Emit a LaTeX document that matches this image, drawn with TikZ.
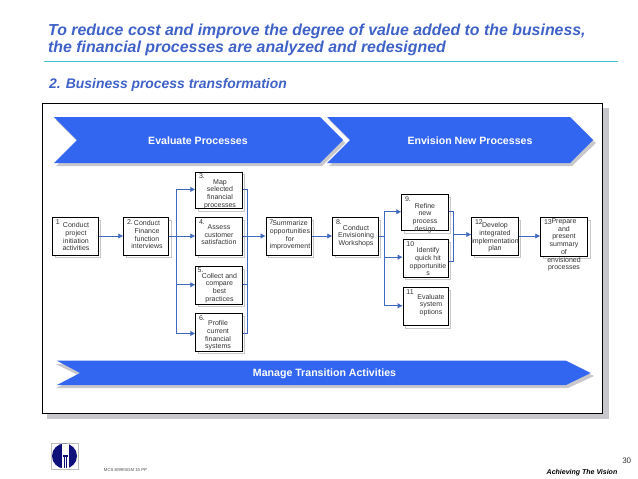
\documentclass[tikz,border=0pt]{standalone}
\usepackage{fontspec}
\setmainfont{Liberation Sans}
\definecolor{flow}{HTML}{3366F0}
\definecolor{ttl}{HTML}{3F62C8}
\definecolor{conn}{HTML}{3F68BE}
\definecolor{shad}{HTML}{C8C8CC}
\definecolor{txt}{HTML}{333333}
\definecolor{navy}{HTML}{10107A}
\definecolor{rulec}{HTML}{45C0D0}
\usetikzlibrary{arrows.meta}
\tikzset{
 x=1pt,y=-1pt,
 ttltext/.style={anchor=west,inner sep=0,font=\bfseries\itshape\fontsize{15.9}{18}\selectfont,text=ttl},
 band/.style={fill=flow,draw=none},
 bandshadow/.style={fill=shad,draw=none},
 bandtext/.style={font=\bfseries\fontsize{10.6}{12}\selectfont,text=white,inner sep=0},
 boxlabel/.style={font=\fontsize{7}{7.7}\selectfont,text=txt,align=center,inner sep=0,anchor=north},
 numlabel/.style={font=\fontsize{7}{8}\selectfont,text=txt,inner sep=0,anchor=north west},
 conn/.style={draw=conn,line width=0.8pt},
 arr/.style={conn,-{Latex[length=5pt,width=5.5pt]}},
}
\newcommand{\stepbox}[6]{% name, x0, y0, x1, y1, number
 \fill[white,draw=shad,line width=0.6pt] (#2+3,#3+3) rectangle (#4+3,#5+3);
 \node[draw=black,line width=0.9pt,fill=white,inner sep=0,minimum width=#4pt-#2pt,minimum height=#5pt-#3pt,anchor=north west] (#1) at (#2,#3) {};
 \node[numlabel] at (#2+3.5,#3+2) {#6};
}
\begin{document}
\begin{tikzpicture}
\useasboundingbox (0,0) rectangle (638,479);
\fill[white] (0,0) rectangle (638,479);
% titles
\node[ttltext] (t1) at (48,31.5) {To reduce cost and improve the degree of value added to the business,};
\node[ttltext] (t2) at (48,48.5) {the financial processes are analyzed and redesigned};
\draw[draw=rulec,line width=0.8pt] (43.5,61.5) -- (618,61.5);
\node[ttltext,font=\bfseries\itshape\fontsize{13.9}{15}\selectfont] (t3) at (49,84.5) {2. Business process transformation};
% frame
\fill[shad] (47,108) rectangle (608.7,418.7);
\draw[fill=white,draw=black,line width=0.9pt] (42.5,103.7) rectangle (602.7,413.3);
% chevrons
\fill[bandshadow] (56,120) -- (322,120) -- (345.5,143) -- (322,166) -- (56,166) -- (79,143) -- cycle;
\fill[bandshadow] (329,120) -- (572,120) -- (596,143) -- (572,166) -- (329,166) -- (352,143) -- cycle;
\fill[band] (54,117) -- (320,117) -- (343,140) -- (320,163) -- (54,163) -- (77,140) -- cycle;
\fill[band] (327,117) -- (570,117) -- (593,140) -- (570,163) -- (327,163) -- (350,140) -- cycle;
\node[bandtext] (ev) at (198,141) {Evaluate Processes};
\node[bandtext] (en) at (470,141) {Envision New Processes};
\fill[bandshadow] (56,364) -- (568,364) -- (594,376) -- (568,388) -- (56,388) -- (80,376) -- cycle;
\fill[band] (57,360.7) -- (566,360.7) -- (590.7,373) -- (566,385) -- (57,385) -- (80,373) -- cycle;
\node[bandtext] (mt) at (324.5,374) {Manage Transition Activities};
% boxes
\fill[shad] (404.3,197.3) rectangle (450.7,233.3);
\stepbox{b1}{52.3}{217.3}{97.7}{254.7}{1}
\stepbox{b2}{123.3}{217.3}{168.3}{254.7}{2.}
\stepbox{b3}{195.3}{171.7}{241.7}{208.3}{3.}
\stepbox{b4}{195.3}{217.3}{241.7}{254.7}{4.}
\stepbox{b5}{195.3}{266.3}{241.7}{303.7}{}
\stepbox{b6}{195.3}{313.3}{241.7}{350.7}{6.}
\stepbox{b7}{265.7}{217.3}{310.7}{254.7}{7}
\stepbox{b8}{332.3}{217.3}{377.7}{254.7}{8.}
\stepbox{b9}{401.3}{194.3}{447.7}{230.3}{9.}
\stepbox{b10}{402.7}{239.3}{447.7}{276.7}{10}
\stepbox{b11}{402.7}{287.3}{447.7}{325}{11}
\stepbox{b12}{471.3}{217.3}{517.7}{254.7}{12}
\stepbox{b13}{540.3}{217.3}{587}{255.7}{13}
\node[numlabel] at (197.3,267.3) {5.};
% box text
\node[boxlabel] at (76,222.5) {Conduct\\project\\initiation\\activities};
\node[boxlabel] at (147,220.5) {Conduct\\Finance\\function\\interviews};
\node[boxlabel] at (220,179) {Map\\selected\\financial\\processes};
\node[boxlabel] at (219,224.5) {Assess\\customer\\satisfaction};
\node[boxlabel] at (219.5,273) {Collect and\\compare\\best\\practices};
\node[boxlabel] at (218,320.5) {Profile\\current\\financial\\systems};
\node[boxlabel] at (290,220.5) {Summarize\\opportunities\\for\\improvement};
\node[boxlabel] at (356,225) {Conduct\\Envisioning\\Workshops};
\node[boxlabel] at (425,203) {Refine\\new\\process\\design};
\node[boxlabel] at (428,247.5) {Identify\\quick hit\\opportunitie\\s};
\node[boxlabel] at (431,294) {Evaluate\\system\\options};
\node[boxlabel] at (495,222.5) {Develop\\integrated\\implementation\\plan};
\node[boxlabel] at (564,218.5) {Prepare\\and\\present\\summary\\of\\envisioned\\processes};
% connectors
\coordinate (s1) at (176.5,236);
\coordinate (s2) at (247.5,236);
\coordinate (s3) at (384,236);
\coordinate (s4) at (453.5,234.5);
\draw[arr] (b1.east |- s1) -- (b2.west |- s1);
\draw[arr] (b2.east |- s1) -- (b4.west |- s1);
\draw[arr] (s1) |- ([yshift=1pt]b3.west);
\draw[arr] (s1) |- ([yshift=0.7pt]b5.west);
\draw[arr] (s1) |- ([yshift=-1pt]b6.west);
\draw[conn] ([yshift=1pt]b3.east) -| (s2);
\draw[conn] ([yshift=0.7pt]b5.east) -| (s2);
\draw[conn] ([yshift=-1pt]b6.east) -| (s2);
\draw[arr] (b4.east |- s2) -- (b7.west |- s2);
\draw[arr] (b7.east |- s2) -- (b8.west |- s2);
\draw[conn] (b8.east |- s3) -- (s3);
\draw[arr] (s3) |- ([yshift=1pt]b9.west);
\draw[arr] (s3) |- ([yshift=1.3pt]b10.west);
\draw[arr] (s3) |- ([yshift=0.8pt]b11.west);
\draw[conn] ([yshift=1pt]b9.east) -| (s4);
\draw[conn] ([yshift=-2.7pt]b10.east) -| (s4);
\draw[arr] (s4) -- (b12.west |- s4);
\draw[arr] (b12.east |- s2) -- (b13.west |- s2);
% logo
\draw[draw=gray!50,line width=0.5pt,fill=white] (51.3,443) rectangle (78.7,469.3);
\fill[navy] (64.5,456) circle (12.5);
\fill[white] (62,443.5) rectangle (68.5,468.5);
\fill[navy] (62.5,455) rectangle (68,457);
\fill[navy] (63.5,457) rectangle (64.7,468);
\fill[navy] (66,457) rectangle (67.2,468);
% footer
\node[inner sep=0,font=\fontsize{4.3}{5}\selectfont,text=black!70] (ref) at (125.5,470) {MCS 8/99/SGM 15 PP};
\node[inner sep=0,font=\fontsize{8}{9}\selectfont,text=txt] (pg) at (626.7,461) {30};
\node[inner sep=0,font=\bfseries\itshape\fontsize{7}{8}\selectfont,text=black] (av) at (582,473) {Achieving The Vision};
\end{tikzpicture}
\end{document}
